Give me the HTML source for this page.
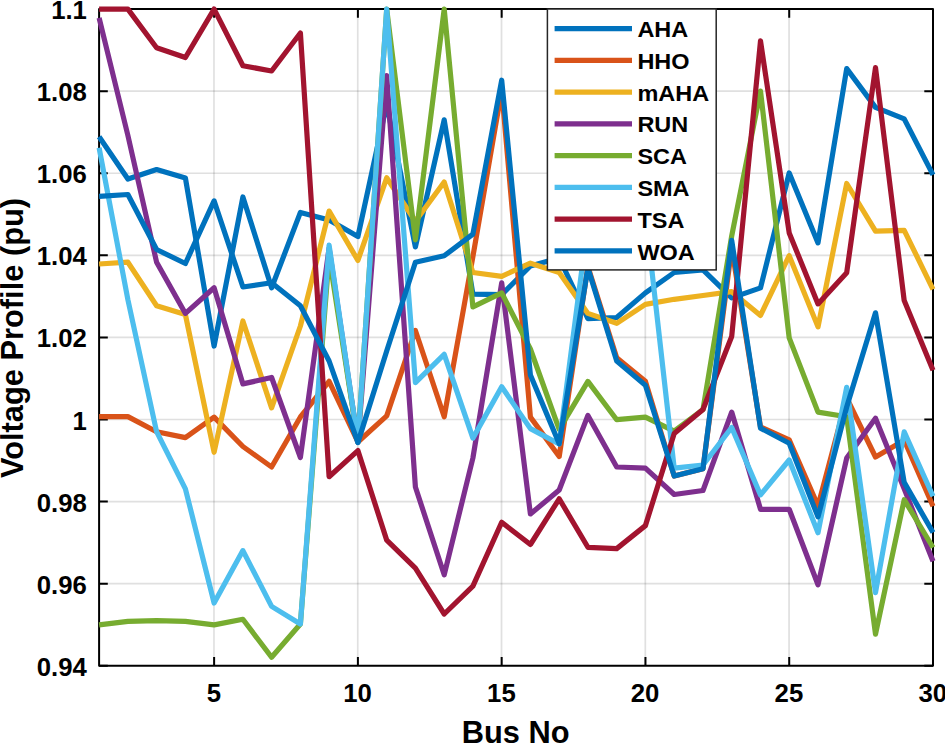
<!DOCTYPE html>
<html lang="en"><head><meta charset="utf-8"><title>Voltage Profile</title>
<style>html,body{margin:0;padding:0;background:#fff}body{width:945px;height:743px;overflow:hidden}svg{display:block}text{font-family:"Liberation Sans", Arial, Helvetica, sans-serif;font-weight:bold;fill:#000}</style></head><body>
<svg width="945" height="743" viewBox="0 0 945 743">
<rect x="0" y="0" width="945" height="743" fill="#fff"/>
<path d="M213.97 9.05V665.80M357.75 9.05V665.80M501.52 9.05V665.80M645.30 9.05V665.80M789.07 9.05V665.80" stroke="#262626" stroke-opacity="0.14" stroke-width="1.7" fill="none"/>
<path d="M99.10 91.14H933.00M99.10 173.24H933.00M99.10 255.33H933.00M99.10 337.43H933.00M99.10 419.52H933.00M99.10 501.61H933.00M99.10 583.71H933.00" stroke="#262626" stroke-opacity="0.14" stroke-width="1.7" fill="none"/>
<path d="M214.12 665.80v-8.70M214.12 9.05v8.70M357.90 665.80v-8.70M357.90 9.05v8.70M501.67 665.80v-8.70M501.67 9.05v8.70M645.45 665.80v-8.70M645.45 9.05v8.70M789.22 665.80v-8.70M789.22 9.05v8.70M99.10 9.05h8.70M933.00 9.05h-8.70M99.10 91.14h8.70M933.00 91.14h-8.70M99.10 173.24h8.70M933.00 173.24h-8.70M99.10 255.33h8.70M933.00 255.33h-8.70M99.10 337.43h8.70M933.00 337.43h-8.70M99.10 419.52h8.70M933.00 419.52h-8.70M99.10 501.61h8.70M933.00 501.61h-8.70M99.10 583.71h8.70M933.00 583.71h-8.70M99.10 665.80h8.70M933.00 665.80h-8.70" stroke="#000" stroke-width="2" fill="none"/>
<rect x="99.10" y="9.05" width="833.90" height="656.75" fill="none" stroke="#000" stroke-width="2" stroke-linejoin="round"/>
<defs><clipPath id="c"><rect x="96.10" y="6.05" width="839.90" height="662.75"/></clipPath></defs>
<g clip-path="url(#c)" fill="none" stroke-width="5.2" stroke-linejoin="round" stroke-linecap="butt">
<polyline points="99.1,136.8 127.9,179.0 156.6,169.5 185.4,178.0 214.1,346.0 242.9,197.0 271.6,287.8 300.4,212.4 329.1,220.0 357.9,236.6 386.7,104.0 415.4,246.9 444.2,119.9 472.9,294.2 501.7,294.7 530.4,266.0 559.2,258.0 587.9,318.7 616.7,317.5 645.4,292.9 674.2,272.5 703.0,269.9 731.7,297.9 760.5,287.9 789.2,173.0 818.0,242.9 846.7,68.6 875.5,107.4 904.2,118.9 933.0,174.9" stroke="#0072BD"/>
<polyline points="99.1,416.6 127.9,416.6 156.6,431.7 185.4,437.6 214.1,417.1 242.9,446.5 271.6,467.0 300.4,417.0 329.1,381.3 357.9,442.0 386.7,415.8 415.4,330.5 444.2,416.8 472.9,256.6 501.7,90.0 530.4,417.1 559.2,456.5 587.9,266.5 616.7,357.8 645.4,381.3 674.2,476.0 703.0,468.7 731.7,248.0 760.5,427.0 789.2,439.8 818.0,505.8 846.7,398.0 875.5,457.0 904.2,440.2 933.0,506.3" stroke="#D95319"/>
<polyline points="99.1,264.0 127.9,262.2 156.6,305.7 185.4,314.6 214.1,452.3 242.9,321.0 271.6,407.9 300.4,326.0 329.1,211.1 357.9,260.4 386.7,177.8 415.4,221.3 444.2,182.0 472.9,272.5 501.7,276.3 530.4,263.2 559.2,272.5 587.9,313.4 616.7,323.3 645.4,304.4 674.2,299.3 703.0,295.5 731.7,291.7 760.5,315.4 789.2,255.7 818.0,326.9 846.7,183.5 875.5,231.1 904.2,230.3 933.0,289.4" stroke="#EDB120"/>
<polyline points="99.1,17.9 127.9,135.5 156.6,262.2 185.4,313.4 214.1,287.8 242.9,383.9 271.6,377.5 300.4,457.5 329.1,248.0 357.9,442.0 386.7,75.6 415.4,487.0 444.2,574.8 472.9,458.0 501.7,282.9 530.4,514.0 559.2,490.0 587.9,415.4 616.7,467.0 645.4,468.2 674.2,494.5 703.0,490.5 731.7,412.1 760.5,509.3 789.2,509.3 818.0,584.7 846.7,458.1 875.5,418.2 904.2,488.8 933.0,561.2" stroke="#7E2F8E"/>
<polyline points="99.1,624.9 127.9,621.3 156.6,620.6 185.4,621.3 214.1,624.9 242.9,619.3 271.6,657.2 300.4,624.0 329.1,256.0 357.9,442.0 386.7,9.1 415.4,239.8 444.2,9.1 472.9,306.9 501.7,292.9 530.4,349.0 559.2,429.3 587.9,381.4 616.7,419.7 645.4,417.1 674.2,431.2 703.0,409.5 731.7,236.0 760.5,91.1 789.2,337.9 818.0,412.1 846.7,416.7 875.5,634.1 904.2,499.7 933.0,547.5" stroke="#77AC30"/>
<polyline points="99.1,147.7 127.9,299.8 156.6,431.7 185.4,488.8 214.1,603.0 242.9,550.6 271.6,606.4 300.4,624.0 329.1,245.1 357.9,442.0 386.7,9.1 415.4,382.6 444.2,354.3 472.9,438.2 501.7,386.8 530.4,428.6 559.2,444.0 587.9,223.0 616.7,170.0 645.4,213.0 674.2,468.2 703.0,465.0 731.7,427.5 760.5,494.9 789.2,460.0 818.0,532.7 846.7,387.3 875.5,592.6 904.2,431.9 933.0,496.3" stroke="#4DBEEE"/>
<polyline points="99.1,9.1 127.9,9.1 156.6,47.8 185.4,57.5 214.1,9.1 242.9,65.7 271.6,71.0 300.4,33.0 329.1,476.7 357.9,450.6 386.7,540.1 415.4,568.2 444.2,614.0 472.9,586.1 501.7,522.3 530.4,544.5 559.2,498.8 587.9,547.3 616.7,548.6 645.4,525.6 674.2,433.5 703.0,409.5 731.7,336.5 760.5,40.9 789.2,232.9 818.0,303.9 846.7,272.7 875.5,67.5 904.2,300.6 933.0,370.3" stroke="#A2142F"/>
<polyline points="99.1,196.3 127.9,194.5 156.6,249.5 185.4,263.5 214.1,200.9 242.9,287.0 271.6,282.7 300.4,305.7 329.1,361.0 357.9,442.6 386.7,351.0 415.4,262.2 444.2,255.8 472.9,234.1 501.7,80.2 530.4,375.0 559.2,443.8 587.9,268.0 616.7,360.9 645.4,385.2 674.2,476.0 703.0,468.7 731.7,240.4 760.5,428.1 789.2,443.2 818.0,516.9 846.7,407.0 875.5,312.8 904.2,482.4 933.0,532.5" stroke="#0072BD"/>
</g>
<text transform="translate(86.9,19.1) scale(0.975,1)" font-size="26.4" text-anchor="end">1.1</text>
<text transform="translate(86.9,101.1) scale(0.975,1)" font-size="26.4" text-anchor="end">1.08</text>
<text transform="translate(86.9,183.2) scale(0.975,1)" font-size="26.4" text-anchor="end">1.06</text>
<text transform="translate(86.9,265.3) scale(0.975,1)" font-size="26.4" text-anchor="end">1.04</text>
<text transform="translate(86.9,347.4) scale(0.975,1)" font-size="26.4" text-anchor="end">1.02</text>
<text transform="translate(86.9,429.5) scale(0.975,1)" font-size="26.4" text-anchor="end">1</text>
<text transform="translate(86.9,511.6) scale(0.975,1)" font-size="26.4" text-anchor="end">0.98</text>
<text transform="translate(86.9,593.7) scale(0.975,1)" font-size="26.4" text-anchor="end">0.96</text>
<text transform="translate(86.9,675.8) scale(0.975,1)" font-size="26.4" text-anchor="end">0.94</text>
<text transform="translate(213.8,702.2) scale(0.975,1)" font-size="26.4" text-anchor="middle">5</text>
<text transform="translate(357.6,702.2) scale(0.975,1)" font-size="26.4" text-anchor="middle">10</text>
<text transform="translate(501.4,702.2) scale(0.975,1)" font-size="26.4" text-anchor="middle">15</text>
<text transform="translate(645.1,702.2) scale(0.975,1)" font-size="26.4" text-anchor="middle">20</text>
<text transform="translate(788.9,702.2) scale(0.975,1)" font-size="26.4" text-anchor="middle">25</text>
<text transform="translate(932.7,702.2) scale(0.975,1)" font-size="26.4" text-anchor="middle">30</text>
<text x="515.7" y="742.5" font-size="30.8" text-anchor="middle">Bus No</text>
<text transform="translate(22.9,338.0) rotate(-90)" font-size="30.8" text-anchor="middle">Voltage Profile (pu)</text>
<rect x="547.4" y="9.0" width="168.8" height="260.9" fill="#fff" stroke="#262626" stroke-width="1.5"/>
<line x1="554.6" x2="632" y1="28.6" y2="28.6" stroke="#0072BD" stroke-width="5.2"/>
<text transform="translate(637.4,37.1) scale(1.03,1)" font-size="22.8">AHA</text>
<line x1="554.6" x2="632" y1="60.4" y2="60.4" stroke="#D95319" stroke-width="5.2"/>
<text transform="translate(637.4,68.9) scale(1.03,1)" font-size="22.8">HHO</text>
<line x1="554.6" x2="632" y1="92.1" y2="92.1" stroke="#EDB120" stroke-width="5.2"/>
<text transform="translate(637.4,100.7) scale(1.03,1)" font-size="22.8">mAHA</text>
<line x1="554.6" x2="632" y1="123.9" y2="123.9" stroke="#7E2F8E" stroke-width="5.2"/>
<text transform="translate(637.4,132.4) scale(1.03,1)" font-size="22.8">RUN</text>
<line x1="554.6" x2="632" y1="155.6" y2="155.6" stroke="#77AC30" stroke-width="5.2"/>
<text transform="translate(637.4,164.2) scale(1.03,1)" font-size="22.8">SCA</text>
<line x1="554.6" x2="632" y1="187.4" y2="187.4" stroke="#4DBEEE" stroke-width="5.2"/>
<text transform="translate(637.4,196.0) scale(1.03,1)" font-size="22.8">SMA</text>
<line x1="554.6" x2="632" y1="219.2" y2="219.2" stroke="#A2142F" stroke-width="5.2"/>
<text transform="translate(637.4,227.8) scale(1.03,1)" font-size="22.8">TSA</text>
<line x1="554.6" x2="632" y1="250.9" y2="250.9" stroke="#0072BD" stroke-width="5.2"/>
<text transform="translate(637.4,259.6) scale(1.03,1)" font-size="22.8">WOA</text>
</svg></body></html>
